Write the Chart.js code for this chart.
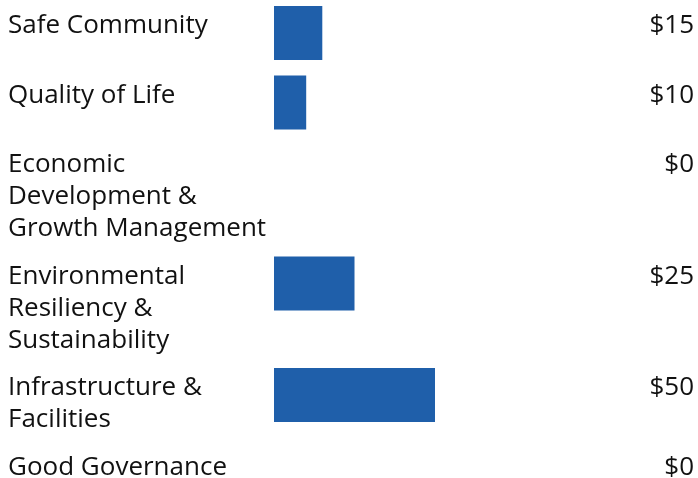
<!DOCTYPE html>
<html>
<head>
<meta charset="utf-8">
<script src="https://cdn.jsdelivr.net/npm/chart.js@4"></script>
<style>
  html, body { margin: 0; padding: 0; background: #ffffff; }
  canvas { display: block; }
</style>
</head>
<body>
<canvas id="budgetChart" width="698" height="478"></canvas>
<script>
// --- Data ---
const categories = [
    ['Safe Community'],
    ['Quality of Life'],
    ['Economic', 'Development &', 'Growth Management'],
    ['Environmental', 'Resiliency &', 'Sustainability'],
    ['Infrastructure &', 'Facilities'],
    ['Good Governance']
];
const amounts = [15, 10, 0, 25, 50, 0];
const valueLabels = ['$15', '$10', '$0', '$25', '$50', '$0'];

// --- Layout: each row grows with the number of label lines ---
const LINE_H = 32;
const BAR_H = 54;
const ROW_GAP = 15.5;
const TOP = 6;
const rowTops = [];
let cursor = TOP;
categories.forEach(lines => {
    rowTops.push(cursor);
    cursor += Math.max(BAR_H, lines.length * LINE_H) + ROW_GAP;
});

const FONT = "26px 'Open Sans', sans-serif";

// Labels on the left, amounts on the right
const rowTextPlugin = {
    id: 'rowText',
    afterDraw(chart) {
        const ctx = chart.ctx;
        const yScale = chart.scales.y;
        ctx.save();
        ctx.font = FONT;
        ctx.fillStyle = '#111111';
        ctx.textBaseline = 'alphabetic';
        categories.forEach((lines, i) => {
            const top = yScale.getPixelForValue(rowTops[i]);
            ctx.textAlign = 'left';
            lines.forEach((line, j) => {
                ctx.fillText(line, 8, top + 27 + j * LINE_H);
            });
            ctx.textAlign = 'right';
            ctx.fillText(valueLabels[i], 694, top + 27);
        });
        ctx.restore();
    }
};

const ctx = document.getElementById('budgetChart').getContext('2d');
const budgetChart = new Chart(ctx, {
    type: 'bar',
    data: {
        datasets: [{
            data: amounts.map((v, i) => ({ x: v, y: rowTops[i] + BAR_H / 2 })),
            backgroundColor: '#1f5faa',
            borderWidth: 0,
            inflateAmount: 0,
            barThickness: BAR_H
        }]
    },
    options: {
        indexAxis: 'y',
        responsive: false,
        animation: false,
        layout: { padding: { left: 274, right: 263, top: 0, bottom: 0 } },
        scales: {
            x: { type: 'linear', min: 0, max: 50, offset: false, display: false },
            y: { type: 'linear', min: 0, max: 478, reverse: true, offset: false, display: false }
        },
        plugins: {
            legend: { display: false },
            tooltip: { enabled: false }
        }
    },
    plugins: [rowTextPlugin]
});
</script>
</body>
</html>
